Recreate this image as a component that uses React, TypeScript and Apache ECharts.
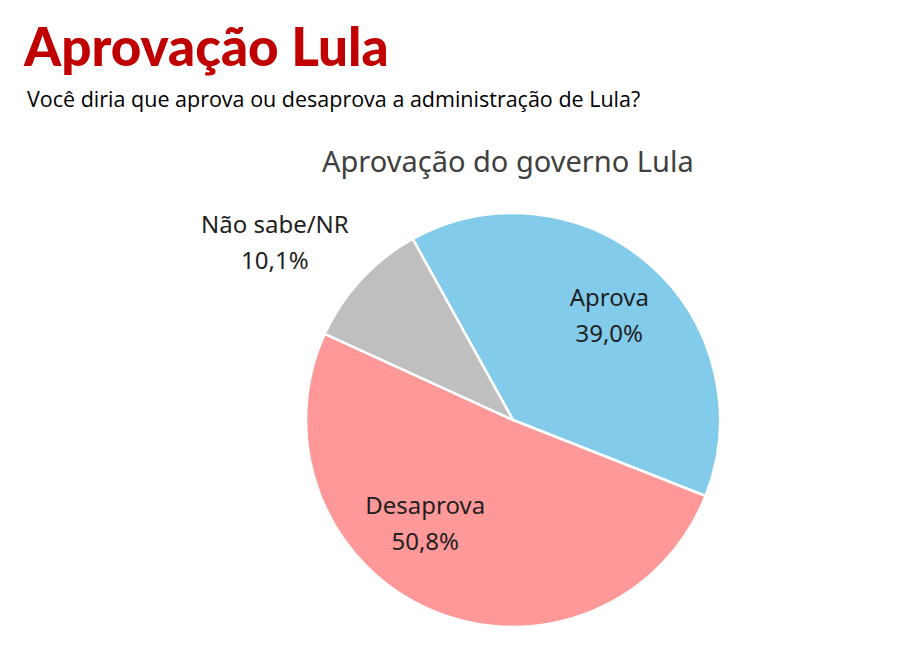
import React, { useEffect, useRef } from "react";
import * as echarts from "echarts";

const categories = ["Aprova", "Desaprova", "Não sabe/NR"];
const values = [39.0, 50.8, 10.1];
const colors = ["#83CBEB", "#FF9999", "#BFBFBF"];
// label nudges from the default inside position (px)
const labelDx = [26, -46, -160];
const labelDy = [-25, 5, -106];

const fmt = (v: number) => v.toFixed(1).replace(".", ",") + "%";

export default function App() {
  const ref = useRef<HTMLDivElement>(null);
  useEffect(() => {
    const chart = echarts.init(ref.current!, null, { renderer: "svg" });
    chart.setOption({
      animation: false,
      backgroundColor: "#ffffff",
      title: [
        {
          text: "Aprovação Lula",
          left: 19,
          top: 14,
          textStyle: {
            fontFamily: "Lato",
            fontWeight: 900,
            fontSize: 53,
            color: "#C00000",
          },
        },
        {
          text: "Você diria que aprova ou desaprova a administração de Lula?",
          left: 22,
          top: 82,
          textStyle: {
            fontFamily: "Open Sans",
            fontWeight: "normal",
            fontSize: 21.5,
            color: "#000000",
          },
        },
        {
          text: "Aprovação do governo Lula",
          left: 317,
          top: 141,
          textStyle: {
            fontFamily: "Noto Sans",
            fontWeight: "normal",
            fontSize: 29,
            color: "#404040",
          },
        },
      ],
      series: [
        {
          type: "pie",
          center: [513, 420],
          radius: [0, 207],
          startAngle: 119,
          clockwise: true,
          silent: true,
          itemStyle: { borderColor: "#ffffff", borderWidth: 2.5 },
          label: {
            show: true,
            position: "inside",
            fontFamily: "Noto Sans",
            fontSize: 24,
            lineHeight: 36,
            color: "#1f1f1f",
            align: "center",
            formatter: (p: any) => `${p.name}\n${fmt(p.value)}`,
          },
          labelLine: { show: false },
          labelLayout: (p: any) => ({
            dx: labelDx[p.dataIndex],
            dy: labelDy[p.dataIndex],
          }),
          data: categories.map((c, i) => ({
            name: c,
            value: values[i],
            itemStyle: { color: colors[i] },
          })),
        },
      ],
    });
    return () => chart.dispose();
  }, []);
  return (
    <div
      ref={ref}
      style={{ position: "fixed", left: 0, top: 0, width: 909, height: 667 }}
    />
  );
}
